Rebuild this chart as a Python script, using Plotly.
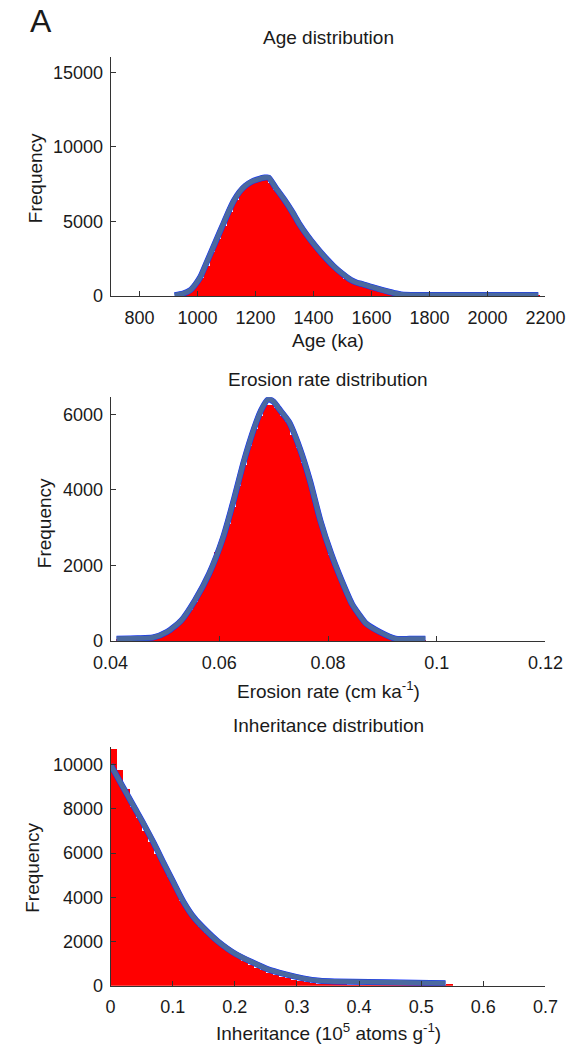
import plotly.graph_objects as go

W, H = 587, 1064

# ---------------- DATA ----------------
# Age panel
age_bin_centers = [950, 970, 990, 1010, 1030, 1050, 1070, 1090, 1110, 1130,
                   1150, 1170, 1190, 1210, 1230, 1250, 1270, 1290, 1310, 1330,
                   1350, 1370, 1390, 1410, 1430, 1450, 1470, 1490, 1510, 1530,
                   1550, 1570, 1590, 1610, 1630, 1650, 1670, 1690, 1710, 1730,
                   1750, 1770, 1790, 1810, 1830, 1850, 1870, 1890, 1910, 1930,
                   1950, 1970, 1990, 2010, 2030, 2050, 2070, 2090, 2110, 2130,
                   2150, 2170]
age_counts = [120, 330, 700, 1200, 2000, 2900, 3800, 4700, 5600, 6400,
              7000, 7350, 7600, 7750, 7800, 7550, 7100, 6600, 6050, 5500,
              4850, 4250, 3700, 3200, 2700, 2300, 1900, 1500, 1150, 950,
              800, 650, 500, 380, 280, 200, 130, 80, 50, 40,
              35, 30, 30, 25, 25, 25, 20, 20, 20, 20,
              20, 20, 20, 20, 20, 20, 20, 20, 20, 20,
              20, 40]
age_fit_x = [921, 950, 975, 993, 1010, 1030, 1050, 1070, 1090, 1110, 1125,
             1145, 1165, 1187, 1210, 1232, 1245, 1270, 1300, 1325, 1349, 1379,
             1409, 1440, 1470, 1500, 1530, 1550, 1566, 1600, 1630, 1660, 1690,
             1710, 1800, 1900, 2000, 2100, 2175]
age_fit_y = [60, 170, 400, 800, 1300, 2200, 3100, 4000, 4900, 5800, 6400,
             7000, 7400, 7680, 7850, 7950, 7950, 7250, 6450, 5700, 4900, 4050,
             3300, 2600, 2000, 1500, 1080, 900, 820, 620, 450, 300, 160,
             90, 80, 80, 80, 80, 80]

# Erosion panel
ero_bin_centers = [0.0415, 0.0425, 0.0435, 0.0445, 0.0455, 0.0465, 0.0475, 0.0485,
                   0.0495, 0.0505, 0.0515, 0.0525, 0.0535, 0.0545, 0.0555, 0.0565,
                   0.0575, 0.0585, 0.0595, 0.0605, 0.0615, 0.0625, 0.0635, 0.0645,
                   0.0655, 0.0665, 0.0675, 0.0685, 0.0695, 0.0705, 0.0715, 0.0725,
                   0.0735, 0.0745, 0.0755, 0.0765, 0.0775, 0.0785, 0.0795, 0.0805,
                   0.0815, 0.0825, 0.0835, 0.0845, 0.0855, 0.0865, 0.0875, 0.0885,
                   0.0895, 0.0905, 0.0915, 0.0925, 0.0935, 0.0945, 0.0955, 0.0965,
                   0.0975]
ero_counts = [50, 55, 60, 60, 65, 70, 80, 120,
              180, 250, 340, 450, 600, 800, 1030, 1300,
              1600, 1950, 2350, 2650, 3100, 3550, 4100, 4650,
              5150, 5600, 5950, 6250, 6250, 6150, 5950, 5780,
              5450, 5100, 4700, 4250, 3750, 3200, 2700, 2280,
              1900, 1550, 1230, 930, 700, 500, 350, 250,
              170, 110, 70, 50, 40, 30, 25, 20,
              15]
ero_fit_x = [0.0411, 0.0450, 0.0478, 0.0504, 0.0530, 0.0555, 0.0581, 0.0607,
             0.0626, 0.0645, 0.0664, 0.0677, 0.0690, 0.0700, 0.0709, 0.0728,
             0.0748, 0.0767, 0.0786, 0.0806, 0.0825, 0.0844, 0.0858, 0.0870,
             0.0895, 0.0924, 0.0950, 0.0979]
ero_fit_y = [60, 70, 90, 240, 540, 1070, 1770, 2740,
             3700, 4750, 5630, 6110, 6400, 6330, 6160, 5800,
             5100, 4230, 3180, 2300, 1600, 980, 680, 460,
             240, 60, 55, 55]

# Inheritance panel
inh_bin_centers = [0.005, 0.015, 0.025, 0.035, 0.045, 0.055, 0.065, 0.075, 0.085, 0.095,
                   0.105, 0.115, 0.125, 0.135, 0.145, 0.155, 0.165, 0.175, 0.185, 0.195,
                   0.205, 0.215, 0.225, 0.235, 0.245, 0.255, 0.265, 0.275, 0.285, 0.295,
                   0.305, 0.315, 0.325, 0.335, 0.345, 0.355, 0.365, 0.375, 0.385, 0.395,
                   0.405, 0.415, 0.425, 0.435, 0.445, 0.455, 0.465, 0.475, 0.485, 0.495,
                   0.505, 0.515, 0.525, 0.535, 0.545]
inh_counts = [10700, 9780, 8890, 8100, 7600, 7000, 6500, 5950, 5450, 4900,
              4400, 3850, 3400, 3000, 2650, 2400, 2150, 1900, 1700, 1480,
              1280, 1100, 950, 820, 700, 590, 490, 400, 330, 270,
              220, 170, 130, 100, 75, 60, 45, 35, 30, 30,
              30, 30, 28, 28, 25, 25, 25, 22, 22, 20,
              20, 20, 20, 20, 40]
inh_fit_x = [0.0, 0.0200, 0.0400, 0.0516, 0.0700, 0.0868, 0.1000, 0.1170, 0.1350,
             0.1500, 0.1720, 0.2020, 0.2525, 0.2804, 0.3100, 0.3367, 0.3600,
             0.4155, 0.5390]
inh_fit_y = [10000, 8980, 7980, 7400, 6420, 5460, 4740, 3810, 3050,
             2600, 2020, 1420, 750, 520, 330, 220, 190,
             160, 110]

# Axis ticks / labels
age_xticks = [800, 1000, 1200, 1400, 1600, 1800, 2000, 2200]
age_xticklabels = ["800", "1000", "1200", "1400", "1600", "1800", "2000", "2200"]
age_yticks = [0, 5000, 10000, 15000]
age_yticklabels = ["0", "5000", "10000", "15000"]
ero_xticks = [0.04, 0.06, 0.08, 0.1, 0.12]
ero_xticklabels = ["0.04", "0.06", "0.08", "0.1", "0.12"]
ero_yticks = [0, 2000, 4000, 6000]
ero_yticklabels = ["0", "2000", "4000", "6000"]
inh_xticks = [0, 0.1, 0.2, 0.3, 0.4, 0.5, 0.6, 0.7]
inh_xticklabels = ["0", "0.1", "0.2", "0.3", "0.4", "0.5", "0.6", "0.7"]
inh_yticks = [0, 2000, 4000, 6000, 8000, 10000]
inh_yticklabels = ["0", "2000", "4000", "6000", "8000", "10000"]

# ---------------- STYLE / LAYOUT ----------------
FONT = "Liberation Sans, Arial, Helvetica, sans-serif"
TXT = "#1a1a1a"
AX = "#333333"
RED = "#ff0000"
STEEL = "#4a69a0"
BLUE = "#1030ff"

def py(px):
    return 1 - px / H

xdom = [99 / W, 564 / W]
panels = [  # (top px, bottom px)
    (58, 299),
    (401, 647),
    (754, 995),
]

fig = go.Figure()

def add_panel(i, bx, by, bw, fx, fy):
    xa = "x" if i == 1 else f"x{i}"
    ya = "y" if i == 1 else f"y{i}"
    fig.add_trace(go.Bar(x=bx, y=by, width=bw, marker=dict(color=RED, line=dict(width=0)),
                         xaxis=xa, yaxis=ya, showlegend=False, hoverinfo="skip"))
    fig.add_trace(go.Scatter(x=fx, y=fy, mode="lines",
                             line=dict(color=BLUE, width=6, shape="spline", smoothing=0.6),
                             xaxis=xa, yaxis=ya, showlegend=False, hoverinfo="skip"))
    fig.add_trace(go.Scatter(x=fx, y=fy, mode="lines",
                             line=dict(color=STEEL, width=5, shape="spline", smoothing=0.6),
                             xaxis=xa, yaxis=ya, showlegend=False, hoverinfo="skip"))

add_panel(1, age_bin_centers, age_counts, 20, age_fit_x, age_fit_y)
add_panel(2, ero_bin_centers, ero_counts, 0.001, ero_fit_x, ero_fit_y)
add_panel(3, inh_bin_centers, inh_counts, 0.01, inh_fit_x, inh_fit_y)

common_axis = dict(showline=True, linecolor=AX, linewidth=1, ticks="inside", ticklen=5,
                   tickcolor=AX, tickwidth=1, showgrid=False, zeroline=False,
                   tickfont=dict(family=FONT, size=18, color=TXT), fixedrange=True)

def xaxis(anchor, rng, tv, tt):
    return dict(common_axis, domain=xdom, anchor=anchor, range=rng, tickmode="array",
                tickvals=tv, ticktext=tt, ticklabelstandoff=5)

def yaxis(anchor, rng, tv, tt, top, bottom):
    return dict(common_axis, domain=[py(bottom), py(top)], anchor=anchor, range=rng,
                tickmode="array", tickvals=tv, ticktext=tt, ticklabelstandoff=3)

fig.update_layout(
    width=W, height=H, margin=dict(l=0, r=0, t=0, b=0),
    paper_bgcolor="white", plot_bgcolor="white",
    bargap=0, barmode="overlay",
    xaxis=xaxis("y", [700, 2200], age_xticks, age_xticklabels),
    yaxis=yaxis("x", [0, 16000], age_yticks, age_yticklabels, *panels[0]),
    xaxis2=xaxis("y2", [0.04, 0.12], ero_xticks, ero_xticklabels),
    yaxis2=yaxis("x2", [0, 6450], ero_yticks, ero_yticklabels, *panels[1]),
    xaxis3=xaxis("y3", [0, 0.7], inh_xticks, inh_xticklabels),
    yaxis3=yaxis("x3", [0, 10800], inh_yticks, inh_yticklabels, *panels[2]),
)

xc = (xdom[0] + xdom[1]) / 2

def text(t, x, ypx, size=19, angle=0, xanchor="center"):
    fig.add_annotation(text=t, x=x, y=py(ypx), xref="paper", yref="paper",
                       showarrow=False, xanchor=xanchor, yanchor="middle",
                       textangle=angle, font=dict(family=FONT, size=size, color=TXT))

text("A", 11 / W, 21, size=32, xanchor="left")
text("Age distribution", xc, 38)
text("Age (ka)", xc, 344)
text("Frequency", 18 / W, 180, angle=-90)

text("Erosion rate distribution", xc, 383)
text("Erosion rate (cm ka<sup>-1</sup>)", xc, 697)
text("Frequency", 28 / W, 528, angle=-90)

text("Inheritance distribution", xc, 732)
text("Inheritance (10<sup>5</sup> atoms g<sup>-1</sup>)", xc, 1042)
text("Frequency", 16 / W, 876, angle=-90)

fig.write_html("out.html")
